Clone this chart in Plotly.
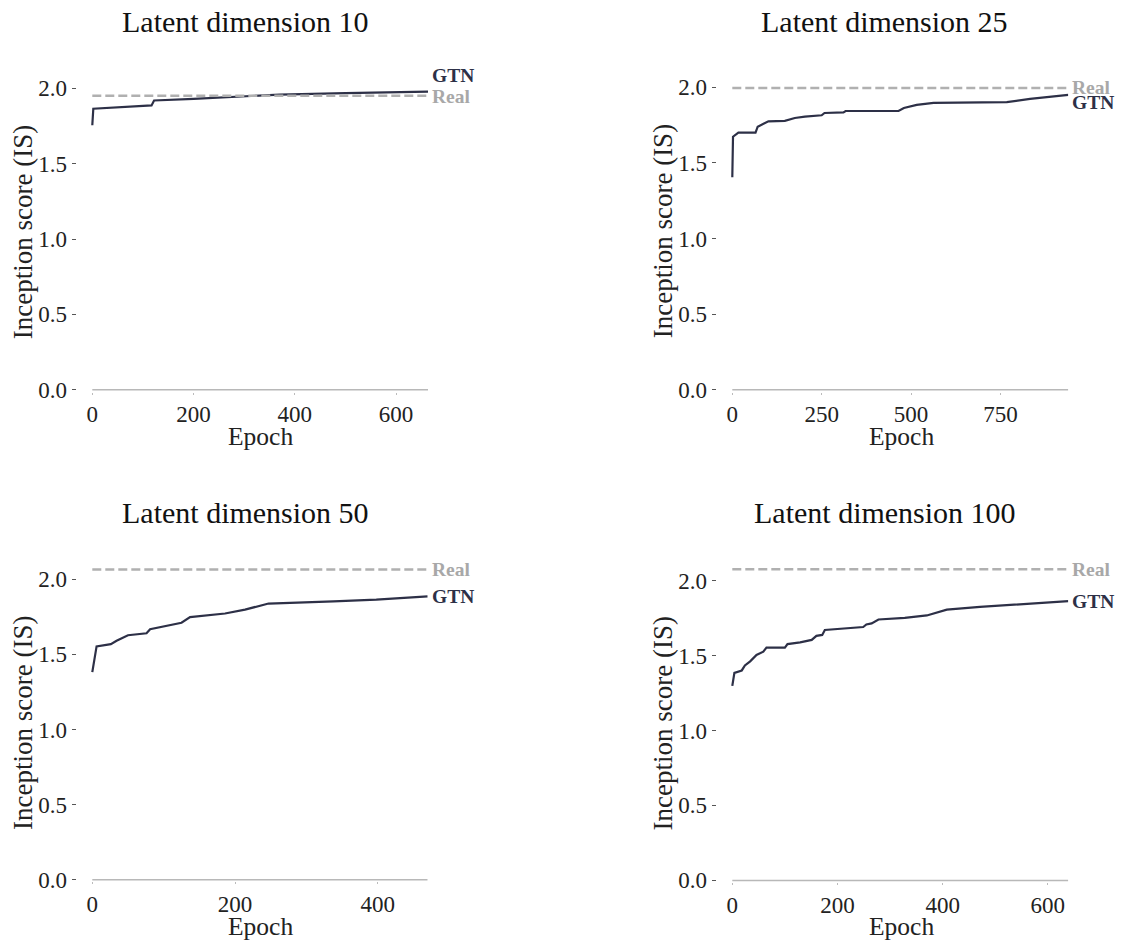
import plotly.graph_objects as go

# ---------------- data ----------------
titles = ["Latent dimension 10", "Latent dimension 25", "Latent dimension 50", "Latent dimension 100"]

epochs_10 = [0, 2, 117, 122, 200, 300, 370, 500, 663]
is_10 = [1.755, 1.864, 1.886, 1.919, 1.930, 1.946, 1.958, 1.968, 1.978]

epochs_25 = [0, 2, 17, 65, 71, 101, 147, 175, 203, 250, 258, 311, 317, 465, 480, 516, 563, 768, 833, 940]
is_25 = [1.405, 1.673, 1.700, 1.700, 1.739, 1.775, 1.778, 1.797, 1.806, 1.815, 1.830, 1.834, 1.843,
         1.843, 1.863, 1.884, 1.897, 1.902, 1.923, 1.950]

epochs_50 = [0, 6, 26, 34, 50, 76, 81, 102, 125, 137, 158, 186, 214, 237, 247, 338, 398, 470]
is_50 = [1.382, 1.553, 1.568, 1.590, 1.627, 1.640, 1.667, 1.689, 1.710, 1.748, 1.759, 1.772, 1.798,
         1.829, 1.838, 1.853, 1.864, 1.886]

epochs_100 = [0, 4, 18, 24, 34, 46, 59, 65, 100, 105, 129, 151, 160, 171, 176, 249, 255, 265, 278,
              328, 370, 408, 471, 560, 639]
is_100 = [1.297, 1.384, 1.400, 1.433, 1.461, 1.503, 1.525, 1.552, 1.552, 1.576, 1.587, 1.604, 1.631,
          1.637, 1.670, 1.690, 1.707, 1.714, 1.740, 1.751, 1.767, 1.806, 1.824, 1.846, 1.862]

real_is = [1.950, 1.995, 2.065, 2.075]
x_dticks = [200, 250, 200, 200]
y_tickvals = [0.0, 0.5, 1.0, 1.5, 2.0]
x_title = "Epoch"
y_title = "Inception score (IS)"

series = [(epochs_10, is_10), (epochs_25, is_25), (epochs_50, is_50), (epochs_100, is_100)]

# ---------------- layout geometry (pixels) ----------------
W, H = 1123, 950
# left edge, x of epoch 0, right edge, y pixel of value 0, px per unit
geom = [
    (76.5, 92.3, 428.0, 394.3, 152.5),
    (716.5, 732.3, 1068.3, 394.3, 153.0),
    (76.5, 92.3, 427.7, 890.0, 152.0),
    (716.5, 732.3, 1068.3, 890.7, 151.7),
]
title_pos = [(245, 22), (884, 22), (245, 518), (885, 518)]
xtitle_x = [260.5, 901, 260, 901]
ytitle_pos = [(23, 235), (663, 234), (23, 731.5), (663, 732)]
# label vertical offsets in px (GTN, Real)
label_shift = [(16, -1), (-8, 1), (0, 0), (0, 0)]
Y_TOP = 2.1
Y_BOT = -0.012

FONT = "Liberation Serif, Times New Roman, serif"
GTN_COLOR = "#2d3047"
REAL_COLOR = "#b0b0b0"
TXT = "#222222"

fig = go.Figure()
layout = dict(
    width=W, height=H,
    margin=dict(l=0, r=0, t=0, b=0),
    paper_bgcolor="white", plot_bgcolor="white",
    showlegend=False,
    font=dict(family=FONT, color=TXT),
)
annotations = []
shapes = []

for i, ((ep, val), (left, x0px, right, y0px, sy)) in enumerate(zip(series, geom)):
    n = "" if i == 0 else str(i + 1)
    xa, ya = "x" + n, "y" + n
    xmax = ep[-1]
    sx = (right - x0px) / xmax
    xmin = -(x0px - left) / sx
    top_px = y0px - Y_TOP * sy
    bot_px = y0px - Y_BOT * sy

    # GTN line
    fig.add_trace(go.Scatter(x=ep, y=val, mode="lines", xaxis=xa, yaxis=ya,
                             line=dict(color=GTN_COLOR, width=2.2), hoverinfo="x+y"))
    # Real dashed line
    fig.add_trace(go.Scatter(x=[ep[0], ep[-1]], y=[real_is[i], real_is[i]], mode="lines",
                             xaxis=xa, yaxis=ya,
                             line=dict(color=REAL_COLOR, width=2.4, dash="9px,4px")))

    layout["xaxis" + n] = dict(
        domain=[left / W, right / W], range=[xmin, xmax], anchor=ya,
        showgrid=False, zeroline=False, showline=False,
        ticks="outside", ticklen=2, tickcolor="#bbbbbb", tickwidth=1,
        tick0=0, dtick=x_dticks[i],
        tickfont=dict(family=FONT, size=23, color=TXT),
    )
    layout["yaxis" + n] = dict(
        domain=[1 - bot_px / H, 1 - top_px / H], range=[Y_BOT, Y_TOP], anchor=xa,
        showgrid=False, zeroline=False, showline=False,
        ticks="outside", ticklen=4, tickcolor="#555555", tickwidth=1,
        tickvals=y_tickvals, tickformat=".1f",
        tickfont=dict(family=FONT, size=23, color=TXT),
    )
    # x axis baseline from epoch 0 to last epoch
    shapes.append(dict(type="line", xref=xa, yref=ya, x0=0, x1=xmax, y0=0, y1=0,
                       line=dict(color="#b8b8b8", width=1.5)))
    # end labels
    annotations.append(dict(x=xmax, y=val[-1], xref=xa, yref=ya, text="<b>GTN</b>",
                            showarrow=False, xanchor="left", yanchor="middle", xshift=3,
                            yshift=label_shift[i][0], borderpad=0,
                            font=dict(family=FONT, size=19.5, color=GTN_COLOR)))
    annotations.append(dict(x=xmax, y=real_is[i], xref=xa, yref=ya, text="<b>Real</b>",
                            showarrow=False, xanchor="left", yanchor="middle", xshift=3,
                            yshift=label_shift[i][1], borderpad=0,
                            font=dict(family=FONT, size=19.5, color="#a8a8a8")))
    # panel title
    tx, ty = title_pos[i]
    annotations.append(dict(x=tx / W, y=1 - ty / H, xref="paper", yref="paper", text=titles[i],
                            showarrow=False, xanchor="center", yanchor="middle",
                            font=dict(family=FONT, size=30, color="#111111")))
    # x axis title, placed below the baseline of the panel
    annotations.append(dict(x=xtitle_x[i] / W, y=0, xref="paper", yref=ya, text=x_title,
                            showarrow=False, xanchor="center", yanchor="top", yshift=-31,
                            borderpad=0,
                            font=dict(family=FONT, size=25.5, color=TXT)))
    qx, qy = ytitle_pos[i]
    annotations.append(dict(x=qx / W, y=1 - qy / H, xref="paper", yref="paper", text=y_title,
                            showarrow=False, xanchor="center", yanchor="middle", textangle=-90,
                            font=dict(family=FONT, size=27, color=TXT)))

layout["annotations"] = annotations
layout["shapes"] = shapes
fig.update_layout(**layout)
fig.write_html("out.html", config={"displayModeBar": False},
               post_script="document.body.style.margin='0';document.body.style.overflow='hidden';")
